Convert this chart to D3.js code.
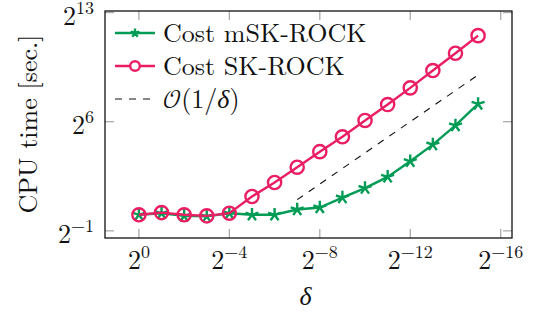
<!DOCTYPE html>
<html>
<head>
<meta charset="utf-8">
<script src="https://cdn.jsdelivr.net/npm/d3@7"></script>
<style>
  body { margin: 0; background: #fff; }
</style>
</head>
<body>
<svg width="533" height="315"></svg>
<script>
// delta = 2^p
const deltaPow = [0, -1, -2, -3, -4, -5, -6, -7, -8, -9, -10, -11, -12, -13, -14, -15];
// CPU time in seconds
const costMSK = [1.02, 1.09, 0.97, 0.95, 1.09, 1.02, 1.02, 1.29, 1.41, 2.19, 3.34, 5.5, 11.0, 23.1, 54.2, 141];
const costSK = [1.02, 1.125, 1.02, 0.973, 1.094, 2.3, 4.29, 8.46, 16.9, 32.7, 67.7, 137, 288, 622, 1342, 2936];
// O(1/delta) reference segment
const refPow = [-7, -15];
const refTime = [2, 512];
// ticks
const xTickPow = [0, -4, -8, -12, -16];
const yTickPow = [-1, 6, 13];

const green = '#009b55';
const pink = '#e91e63';
const serif = '"Latin Modern Roman", "Liberation Serif", serif';
const fs = 26, fsSup = 18;

const margin = { top: 11, right: 21, bottom: 77, left: 105 },
  width = 533 - margin.left - margin.right,
  height = 315 - margin.top - margin.bottom;

const svg = d3.select('svg');
const g = svg.append('g')
  .attr('transform', `translate(${margin.left}, ${margin.top})`);

const x = d3.scaleLog().base(2).domain([2 ** 1.5, 2 ** -16.5]).range([0, width]);
const y = d3.scaleLog().base(2).domain([2 ** -1.46, 2 ** 13.1]).range([height, 0]);

const deltas = deltaPow.map(p => 2 ** p);

function powLabel(sel, p) {
  sel.style('font-family', serif).attr('font-size', fs).attr('fill', '#111');
  sel.append('tspan').text('2');
  sel.append('tspan').attr('dy', -11).attr('font-size', fsSup)
    .text(p < 0 ? '\u2212' + (-p) : String(p));
}

// ticks (grey, inside, on all four sides)
const tickLen = 9;
xTickPow.forEach(p => {
  const tx = x(2 ** p);
  g.append('line').attr('x1', tx).attr('x2', tx).attr('y1', height).attr('y2', height - tickLen)
    .attr('stroke', '#aaa').attr('stroke-width', 1.3);
  g.append('line').attr('x1', tx).attr('x2', tx).attr('y1', 0).attr('y2', tickLen)
    .attr('stroke', '#aaa').attr('stroke-width', 1.3);
  g.append('text').attr('x', tx).attr('y', height + 31)
    .attr('text-anchor', 'middle').call(powLabel, p);
});
yTickPow.forEach(p => {
  const ty = y(2 ** p);
  g.append('line').attr('x1', 0).attr('x2', tickLen).attr('y1', ty).attr('y2', ty)
    .attr('stroke', '#aaa').attr('stroke-width', 1.3);
  g.append('line').attr('x1', width).attr('x2', width - tickLen).attr('y1', ty).attr('y2', ty)
    .attr('stroke', '#aaa').attr('stroke-width', 1.3);
  g.append('text').attr('x', -11).attr('y', ty + 12)
    .attr('text-anchor', 'end').call(powLabel, p);
});

const line = d3.line().x((d, i) => x(deltas[i])).y(d => y(d));

function starPath(r) {
  let s = '';
  for (let k = 0; k < 5; k++) {
    const a = -Math.PI / 2 + k * 2 * Math.PI / 5;
    s += `M0,0L${(r * Math.cos(a)).toFixed(2)},${(r * Math.sin(a)).toFixed(2)}`;
  }
  return s;
}

const lw = 2.4;

// mSK-ROCK
g.append('path').datum(costMSK).attr('d', line)
  .attr('fill', 'none').attr('stroke', green).attr('stroke-width', lw);
g.selectAll('.star').data(costMSK).enter().append('path')
  .attr('class', 'star')
  .attr('transform', (d, i) => `translate(${x(deltas[i])},${y(d)})`)
  .attr('d', starPath(6.8))
  .attr('stroke', green).attr('stroke-width', lw).attr('fill', 'none');

// SK-ROCK
g.append('path').datum(costSK).attr('d', line)
  .attr('fill', 'none').attr('stroke', pink).attr('stroke-width', lw);
g.selectAll('.circ').data(costSK).enter().append('circle')
  .attr('class', 'circ')
  .attr('cx', (d, i) => x(deltas[i])).attr('cy', d => y(d)).attr('r', 6.6)
  .attr('fill', 'none').attr('stroke', pink).attr('stroke-width', lw);

// O(1/delta)
g.append('path').datum(refTime)
  .attr('d', d3.line().x((d, i) => x(2 ** refPow[i])).y(d => y(d)))
  .attr('fill', 'none').attr('stroke', '#111').attr('stroke-width', 1.1)
  .attr('stroke-dasharray', '7,7');

// frame
g.append('rect').attr('width', width).attr('height', height)
  .attr('fill', 'none').attr('stroke', '#111').attr('stroke-width', 1.3);

// legend
const leg = g.append('g').attr('transform', 'translate(10, 22)');
[
  { label: 'Cost mSK-ROCK', color: green, mark: 'star' },
  { label: 'Cost SK-ROCK', color: pink, mark: 'circle' },
  { label: 'ref', color: '#111', mark: 'dash' }
].forEach((d, i) => {
  const row = leg.append('g').attr('transform', `translate(0, ${i * 33})`);
  row.append('line').attr('x1', 0).attr('x2', 40)
    .attr('stroke', d.color).attr('stroke-width', d.mark === 'dash' ? 1.1 : lw)
    .attr('stroke-dasharray', d.mark === 'dash' ? '7,7' : null);
  if (d.mark === 'star') {
    row.append('path').attr('transform', 'translate(20,0)').attr('d', starPath(4.6))
      .attr('stroke', d.color).attr('stroke-width', lw).attr('fill', 'none');
  } else if (d.mark === 'circle') {
    row.append('circle').attr('cx', 20).attr('r', 4.8)
      .attr('fill', '#fff').attr('stroke', d.color).attr('stroke-width', lw);
  }
  const t = row.append('text').attr('x', 48).attr('y', 8.5)
    .style('font-family', serif).attr('font-size', fs).attr('fill', '#111');
  if (d.mark === 'dash') {
    t.append('tspan').style('font-family', '"Latin Modern Math", "Latin Modern Roman", serif')
      .text('\ud835\udcaa');
    t.append('tspan').text('(1/');
    t.append('tspan').attr('font-style', 'italic').text('\u03b4');
    t.append('tspan').text(')');
  } else {
    t.text(d.label);
  }
});

// axis titles
svg.append('text')
  .attr('transform', `translate(37, ${margin.top + 113}) rotate(-90)`)
  .attr('text-anchor', 'middle')
  .style('font-family', serif).attr('font-size', fs).attr('fill', '#111')
  .text('CPU time [sec.]');
svg.append('text')
  .attr('x', margin.left + width / 2 - 3).attr('y', 305)
  .attr('text-anchor', 'middle')
  .style('font-family', serif).attr('font-size', fs).attr('font-style', 'italic')
  .attr('fill', '#111')
  .text('\u03b4');
</script>
</body>
</html>
